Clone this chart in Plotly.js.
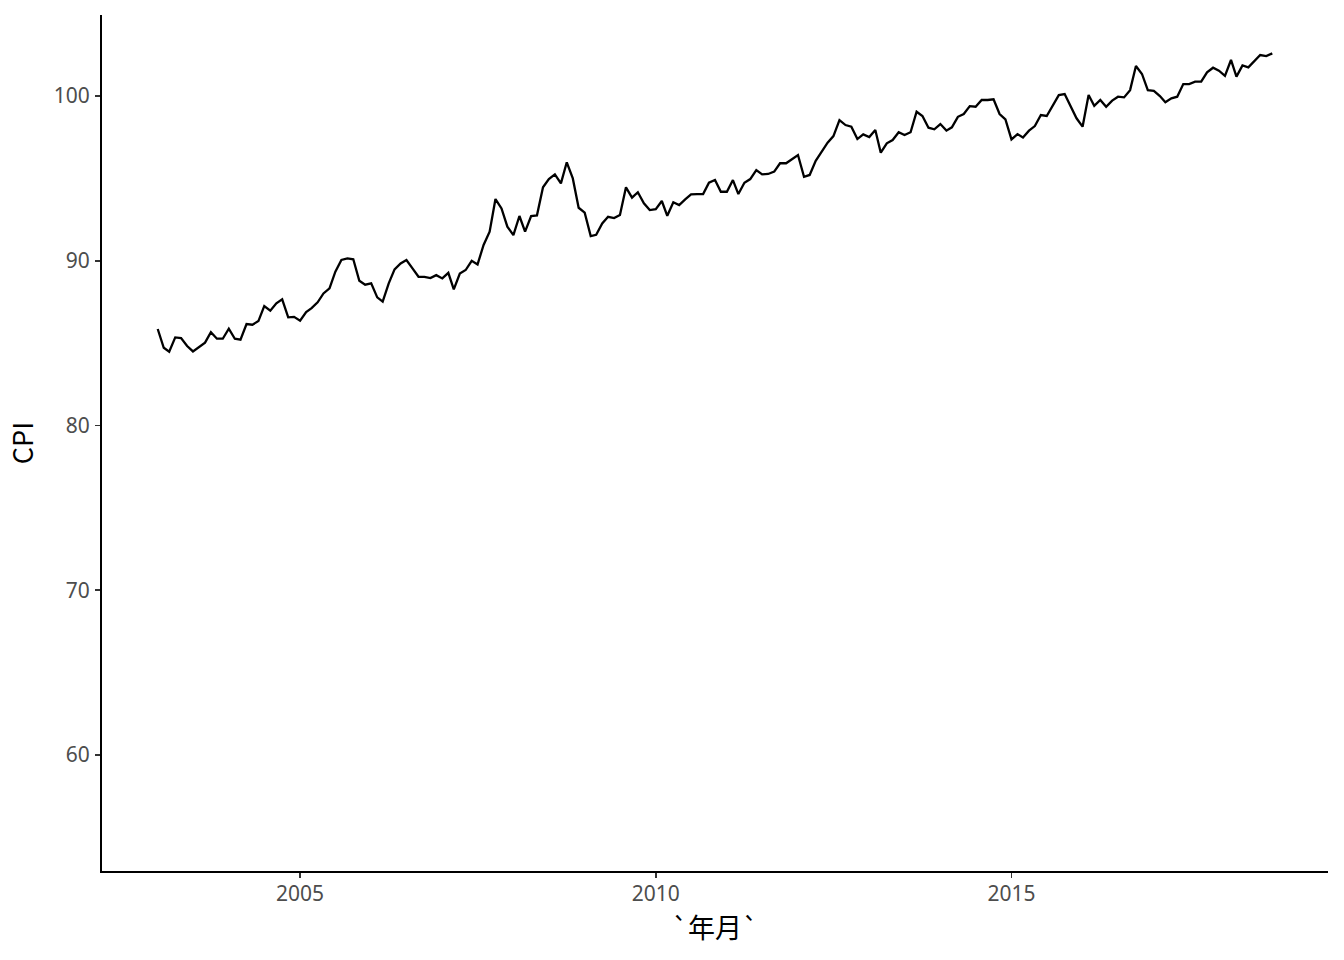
<!DOCTYPE html>
<html>
<head>
<meta charset="utf-8">
<script src="https://cdn.plot.ly/plotly-3.0.1.min.js"></script>
<style>html,body{margin:0;padding:0;background:#fff;}#chart{width:1344px;height:960px;}</style>
</head>
<body>
<div id="chart"></div>
<script>
// Monthly CPI, Jan 2003 – Sep 2018
var startYear = 2003;
var startMonth = 1;
var cpi = [
  85.86, 84.72, 84.48, 85.35, 85.31, 84.83, 84.50, 84.78, 85.03, 85.66, 85.27, 85.27,
  85.88, 85.27, 85.21, 86.16, 86.12, 86.34, 87.25, 86.97, 87.42, 87.66, 86.57, 86.60,
  86.36, 86.89, 87.13, 87.48, 88.02, 88.33, 89.34, 90.05, 90.15, 90.09, 88.79, 88.55,
  88.63, 87.78, 87.52, 88.63, 89.48, 89.84, 90.05, 89.54, 89.03, 89.03, 88.95, 89.13,
  88.93, 89.27, 88.26, 89.23, 89.44, 90.00, 89.78, 90.96, 91.77, 93.75, 93.18, 92.07,
  91.56, 92.72, 91.77, 92.72, 92.76, 94.46, 94.96, 95.25, 94.70, 95.98, 95.00, 93.22,
  92.92, 91.50, 91.58, 92.27, 92.67, 92.59, 92.78, 94.46, 93.83, 94.16, 93.49, 93.08,
  93.14, 93.63, 92.73, 93.55, 93.38, 93.73, 94.03, 94.05, 94.05, 94.74, 94.90, 94.19,
  94.19, 94.90, 94.05, 94.74, 94.96, 95.51, 95.25, 95.27, 95.41, 95.92, 95.92, 96.16,
  96.42, 95.10, 95.21, 96.07, 96.62, 97.17, 97.57, 98.54, 98.24, 98.14, 97.39, 97.67,
  97.51, 97.94, 96.56, 97.13, 97.33, 97.80, 97.63, 97.80, 99.05, 98.79, 98.08, 97.98,
  98.30, 97.90, 98.10, 98.74, 98.91, 99.39, 99.35, 99.76, 99.76, 99.80, 98.91, 98.58,
  97.37, 97.69, 97.49, 97.90, 98.18, 98.85, 98.79, 99.45, 100.06, 100.12, 99.39, 98.65,
  98.14, 100.06, 99.41, 99.76, 99.35, 99.72, 99.96, 99.92, 100.36, 101.82, 101.34, 100.36,
  100.32, 100.00, 99.62, 99.86, 99.96, 100.73, 100.73, 100.87, 100.87, 101.44, 101.72, 101.54,
  101.23, 102.19, 101.18, 101.86, 101.74, 102.15, 102.49, 102.43, 102.59
];
var xTickVals = ['2005-01-01', '2010-01-01', '2015-01-01'];
var xTickText = ['2005', '2010', '2015'];
var yTickVals = [60, 70, 80, 90, 100];
var xTitle = '`年月`';
var yTitle = 'CPI';

var months = cpi.map(function (v, i) {
  var m = startMonth - 1 + i;
  var y = startYear + Math.floor(m / 12);
  var mm = (m % 12) + 1;
  return y + '-' + (mm < 10 ? '0' + mm : mm) + '-01';
});

var trace = {
  x: months, y: cpi, type: 'scatter', mode: 'lines',
  line: {color: '#000000', width: 2.3}, hoverinfo: 'x+y'
};

var tickFont = {family: 'Noto Sans, Open Sans, DejaVu Sans, sans-serif', size: 21, color: '#4D4D4D'};
var titleFont = {family: 'Noto Sans CJK SC, Noto Sans, sans-serif', size: 27, color: '#000000'};

var layout = {
  width: 1344, height: 960,
  paper_bgcolor: '#ffffff', plot_bgcolor: '#ffffff',
  margin: {l: 102, r: 16, t: 15, b: 89, pad: 0},
  showlegend: false,
  xaxis: {
    type: 'date',
    range: ['2002-03-21', '2019-06-14'],
    tickvals: xTickVals, ticktext: xTickText,
    showgrid: false, zeroline: false,
    showline: true, linecolor: '#000000', linewidth: 2,
    ticks: 'outside', ticklen: 5, tickwidth: 1.8, tickcolor: '#333333',
    ticklabelstandoff: -2,
    tickfont: tickFont,
    title: {text: xTitle, font: titleFont, standoff: 2}
  },
  yaxis: {
    range: [52.96, 104.92],
    tickvals: yTickVals,
    showgrid: false, zeroline: false,
    showline: true, linecolor: '#000000', linewidth: 2,
    ticks: 'outside', ticklen: 5, tickwidth: 1.8, tickcolor: '#333333',
    ticklabelstandoff: 1,
    tickfont: tickFont,
    title: {text: yTitle, font: titleFont, standoff: 12}
  }
};

Plotly.newPlot('chart', [trace], layout, {displayModeBar: false, staticPlot: true});
</script>
</body>
</html>
